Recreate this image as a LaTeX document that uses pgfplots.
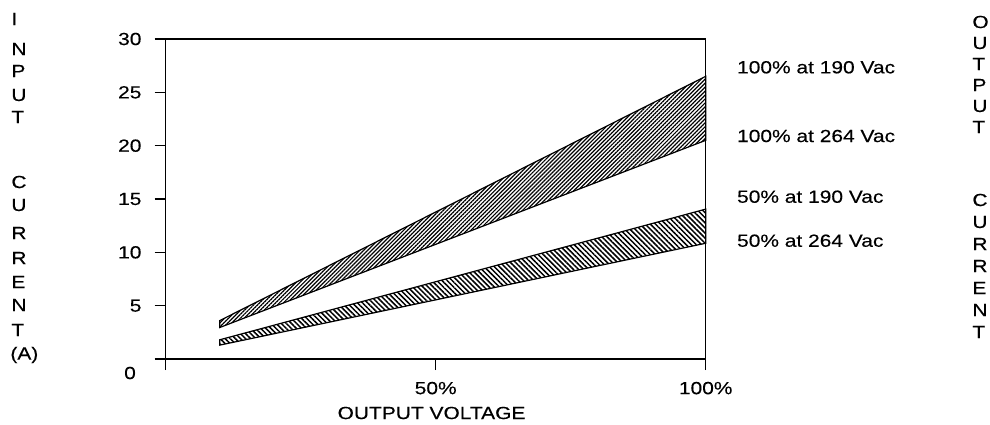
\documentclass[border=0pt]{standalone}
\usepackage{fontspec}
\setmainfont{Liberation Sans}[FakeStretch=1.19,FakeBold=0.3]
\usepackage{pgfplots}
\pgfplotsset{compat=1.18}
\usetikzlibrary{patterns.meta}
\begin{document}
\fontsize{8.8pt}{10pt}\selectfont
\begin{tikzpicture}
\path[use as bounding box] (0,0) rectangle (495pt,212pt);
\begin{axis}[
  at={(82.85pt,32.5pt)}, anchor=south west, scale only axis,
  width=270pt, height=160pt,
  xmin=0, xmax=100, ymin=0, ymax=30,
  axis line style={line width=0.7pt},
  tick align=outside, tick pos=left,
  major tick length=5.5pt,
  every tick/.style={black, line width=0.7pt},
  xtick={0,50,100}, xticklabels={,50\%,100\%},
  ytick={0,5,10,15,20,25,30}, yticklabels={,5,10,15,20,25,30},
  /pgf/number format/assume math mode=true,
  yticklabel style={xshift=-3.5pt},
  xticklabel style={yshift=-2.8pt},
  clip=false,
]
\addplot[draw=black, line width=0.6pt, pattern={Lines[angle=45,distance=1.4pt,line width=0.6pt]}]
  coordinates {(10,3.6) (100,26.5) (100,20.5) (10,2.95)} -- cycle;
\addplot[draw=black, line width=0.6pt, pattern={Lines[angle=-45,distance=1.8pt,line width=0.75pt]}]
  coordinates {(10,1.8) (100,14.05) (100,10.85) (10,1.3)} -- cycle;
\node at (rel axis cs:0,0) [xshift=-17.85pt, yshift=-7pt] {0};
\end{axis}
\begin{scope}[x=0.5pt,y=-0.5pt,shift={(0,212pt)}]
\node at (431.5,413) {OUTPUT VOLTAGE};
\node[anchor=west,inner sep=0] at (736.7,67.3) {100\% at 190 Vac};
\node[anchor=west,inner sep=0] at (736.7,136) {100\% at 264 Vac};
\node[anchor=west,inner sep=0] at (736.7,196.7) {50\% at 190 Vac};
\node[anchor=west,inner sep=0] at (736.7,240.7) {50\% at 264 Vac};
% left stacked label
\foreach \l/\y in {I/19,N/49,P/71,U/95,T/117,C/182,U/205,R/233,R/258,E/282,N/305,T/330} {
  \node[anchor=west,inner sep=0] at (11,\y) {\l};
}
\node[anchor=west,inner sep=0] at (10,355) {(A)};
% right stacked label
\foreach \l/\y in {O/22,U/43,T/64,P/85,U/106,T/127,C/200,U/222,R/244,R/266,E/288,N/310,T/332} {
  \node[anchor=west,inner sep=0] at (972,\y) {\l};
}
\end{scope}
\end{tikzpicture}
\end{document}
